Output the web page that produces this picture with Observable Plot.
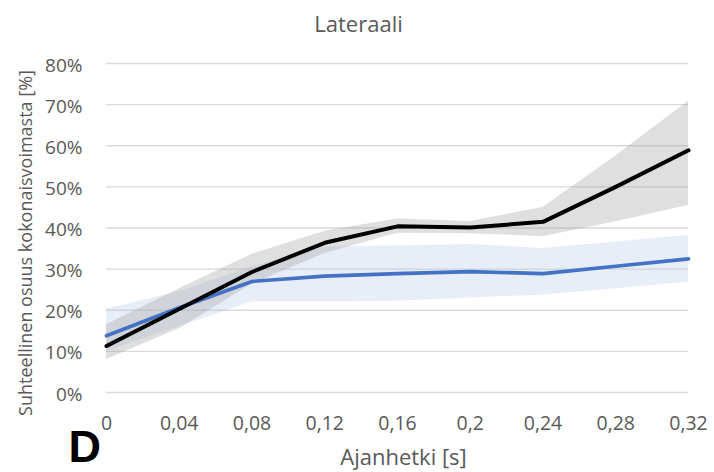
<!DOCTYPE html>
<html>
<head>
<meta charset="utf-8">
<script src="https://cdn.jsdelivr.net/npm/d3@7"></script>
<script src="https://cdn.jsdelivr.net/npm/@observablehq/plot@0.6"></script>
<style>
  html, body { margin: 0; padding: 0; background: #fff; }
  #chart svg { display: block; }
</style>
</head>
<body>
<div id="chart"></div>
<script>
// ---- data ----
const times = [0, 0.04, 0.08, 0.12, 0.16, 0.2, 0.24, 0.28, 0.32];
const xTickLabels = ["0", "0,04", "0,08", "0,12", "0,16", "0,2", "0,24", "0,28", "0,32"];
const yTicks = [0, 10, 20, 30, 40, 50, 60, 70, 80];
const yTickLabels = ["0%", "10%", "20%", "30%", "40%", "50%", "60%", "70%", "80%"];

// black series (mean and band)
const blackMean  = [11.3, 20.3, 29.3, 36.4, 40.4, 40.1, 41.5, 50.0, 58.9];
const blackLower = [8.0, 15.5, 26.3, 33.8, 38.7, 38.6, 37.9, 41.5, 45.5];
const blackUpper = [16.5, 25.2, 33.6, 39.2, 42.2, 41.6, 45.0, 57.5, 70.8];

// blue series (mean and band)
const blueMean  = [13.8, 20.6, 27.0, 28.3, 28.9, 29.4, 28.9, 30.7, 32.5];
const blueLower = [10.0, 16.0, 22.0, 22.0, 22.2, 23.0, 23.7, 25.2, 26.8];
const blueUpper = [20.3, 24.5, 30.5, 35.4, 35.6, 36.0, 35.0, 36.6, 38.2];

const title = "Lateraali";
const xTitle = "Ajanhetki [s]";
const yTitle = "Suhteellinen osuus kokonaisvoimasta [%]";
const panelLetter = "D";

// ---- tables built from the arrays ----
const black = times.map((t, i) => ({t, m: blackMean[i], lo: blackLower[i], hi: blackUpper[i]}));
const blue  = times.map((t, i) => ({t, m: blueMean[i], lo: blueLower[i], hi: blueUpper[i]}));
const xLabel = new Map(times.map((t, i) => [t, xTickLabels[i]]));
const yLabel = new Map(yTicks.map((v, i) => [v, yTickLabels[i]]));

const gray = "#595959";

const chart = Plot.plot({
  width: 714,
  height: 472,
  marginLeft: 106,
  marginRight: 26,
  marginTop: 63,
  marginBottom: 80,
  x: {domain: [0, 0.32]},
  y: {domain: [0, 80]},
  style: {fontFamily: "'Open Sans', sans-serif", background: "#fff", overflow: "visible"},
  marks: [
    Plot.gridY(yTicks, {stroke: "#d9d9d9", strokeOpacity: 1, strokeWidth: 1.4}),
    Plot.areaY(blue, {x: "t", y1: "lo", y2: "hi", fill: "#b4c7e7", fillOpacity: 0.3}),
    Plot.areaY(black, {x: "t", y1: "lo", y2: "hi", fill: "#a6a6a6", fillOpacity: 0.36}),
    Plot.lineY(blue, {x: "t", y: "m", stroke: "#4472c4", strokeWidth: 3.6}),
    Plot.lineY(black, {x: "t", y: "m", stroke: "#000", strokeWidth: 4}),
    Plot.axisY(yTicks, {
      tickSize: 0, tickPadding: 24, label: null, dy: 2,
      tickFormat: d => yLabel.get(d), fontSize: 19, fill: gray,
      style: "letter-spacing:0.04em"
    }),
    Plot.axisX(times, {
      tickSize: 0, tickPadding: 24, label: null,
      tickFormat: d => xLabel.get(d), fontSize: 19.5, fill: gray,
      style: "letter-spacing:0.03em"
    }),
    Plot.text([title], {frameAnchor: "top", dx: -39, dy: -47, fontSize: 22, fill: gray}),
    Plot.text([xTitle], {frameAnchor: "bottom", dx: 6, dy: 72, fontSize: 22, fill: gray}),
    Plot.text([yTitle], {
      frameAnchor: "left", textAnchor: "middle", dx: -80, dy: 15,
      rotate: -90, fontSize: 18, fill: gray
    }),
    Plot.text([panelLetter], {
      frameAnchor: "bottom-left", dx: -38, dy: 69, textAnchor: "start",
      fontSize: 45, fontWeight: "bold", fill: "#000",
      fontFamily: "'Liberation Sans', Arial, sans-serif"
    })
  ]
});
document.getElementById("chart").appendChild(chart);
</script>
</body>
</html>
